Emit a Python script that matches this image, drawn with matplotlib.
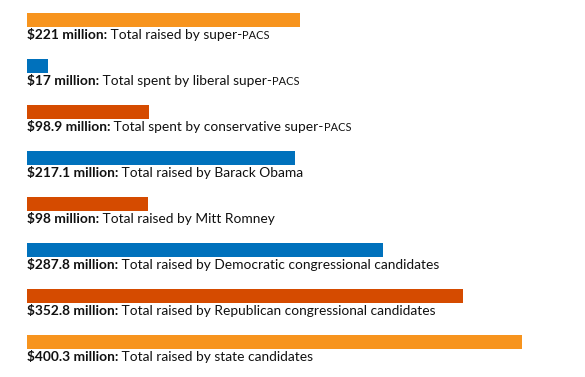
import matplotlib
matplotlib.use("Agg")
import matplotlib.pyplot as plt

# values in millions of dollars
amounts = [221, 17, 98.9, 217.1, 98, 287.8, 352.8, 400.3]
amount_labels = ["$221 million:", "$17 million:", "$98.9 million:", "$217.1 million:",
                 "$98 million:", "$287.8 million:", "$352.8 million:", "$400.3 million:"]
descriptions = ["Total raised by super-", "Total spent by liberal super-",
                "Total spent by conservative super-", "Total raised by Barack Obama",
                "Total raised by Mitt Romney",
                "Total raised by Democratic congressional candidates",
                "Total raised by Republican congressional candidates",
                "Total raised by state candidates"]
small_caps = ["PACS", "PACS", "PACS", "", "", "", "", ""]
colors = ["#F7941E", "#0071BC", "#D54B00", "#0071BC", "#D54B00",
          "#0071BC", "#D54B00", "#F7941E"]

plt.rcParams["font.family"] = ["Lato", "DejaVu Sans"]

fig = plt.figure(figsize=(5.85, 3.77), dpi=100)
ax = fig.add_axes([27 / 585, 0, 1 - 27 / 585, 1])
ax.set_axis_off()

px_per_unit = (522 - 27) / 400.3
ax.set_xlim(0, 558 / px_per_unit)
ax.set_ylim(377 / 46 - 20 / 46, -20 / 46)

pos = list(range(len(amounts)))
ax.barh(pos, amounts, height=14 / 46, color=colors, left=0)

fs = 9.9
for i in pos:
    yb = i + 18.8 / 46
    t1 = ax.text(0, yb, amount_labels[i], fontsize=fs, fontweight="bold",
                 va="baseline", ha="left", color="#111111")
    t2 = ax.annotate(" " + descriptions[i], xy=(1, yb), xycoords=(t1, "data"),
                     fontsize=fs, va="baseline", ha="left", color="#111111")
    if small_caps[i]:
        ax.annotate(small_caps[i], xy=(1, yb), xycoords=(t2, "data"),
                    fontsize=fs * 0.8, va="baseline", ha="left", color="#111111")

fig.savefig("out.png", dpi=100)
